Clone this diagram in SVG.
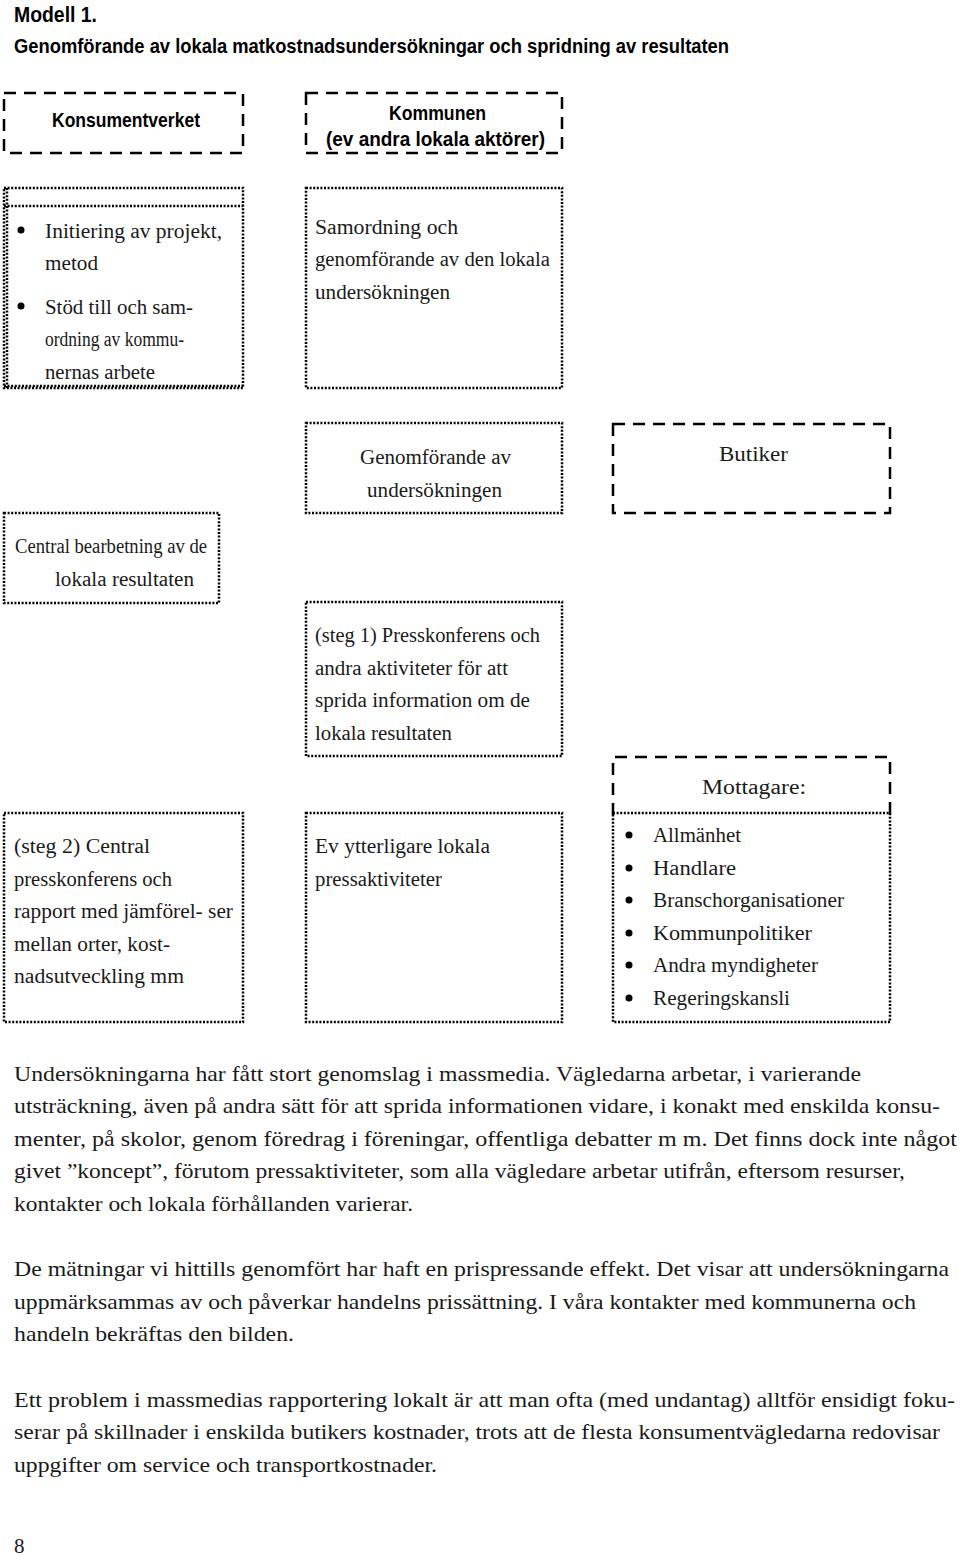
<svg xmlns="http://www.w3.org/2000/svg" width="960" height="1557" viewBox="0 0 960 1557">
<style>
.h{font-family:"Liberation Sans","DejaVu Sans",sans-serif;font-weight:bold;fill:#000}
.s{font-family:"Liberation Serif","DejaVu Serif",serif;font-size:20px;fill:#1a1a1a}
.b{font-family:"Liberation Serif","DejaVu Serif",serif;font-size:21px;fill:#1a1a1a}
.dash{fill:none;stroke:#000;stroke-width:2.5;stroke-dasharray:12 8}
.dot{fill:none;stroke:#000;stroke-width:2.5;stroke-dasharray:2 1.6}
</style>
<rect width="960" height="1557" fill="#fff"/>
<g id="title">
<text class="h" x="14" y="22" font-size="22" textLength="83" lengthAdjust="spacingAndGlyphs">Modell 1.</text>
<text class="h" x="14" y="53" font-size="21" textLength="715" lengthAdjust="spacingAndGlyphs">Genomförande av lokala matkostnadsundersökningar och spridning av resultaten</text>
</g>
<g id="connectors"></g>
<g id="konsumentverket">
<rect class="dash" x="4" y="93" width="239" height="60"/>
<text class="h" x="52" y="127" font-size="21" textLength="148" lengthAdjust="spacingAndGlyphs">Konsumentverket</text>
</g>
<g id="kommunen">
<rect class="dash" x="306" y="93" width="256" height="60"/>
<text class="h" x="389" y="120" font-size="21" textLength="97" lengthAdjust="spacingAndGlyphs">Kommunen</text>
<text class="h" x="326" y="146" font-size="21" textLength="219" lengthAdjust="spacingAndGlyphs">(ev andra lokala aktörer)</text>
</g>
<g id="kv-uppgifter">
<rect class="dot" x="4" y="188" width="239" height="200"/>
<line class="dot" x1="4" y1="206" x2="243" y2="206"/>
<line class="dot" x1="7" y1="188" x2="7" y2="388"/>
<line class="dot" x1="4" y1="386" x2="243" y2="386"/>
<circle cx="21" cy="230" r="3.5"/>
<circle cx="21" cy="306" r="3.5"/>
<text class="s" x="45" y="238" textLength="177" lengthAdjust="spacingAndGlyphs">Initiering av projekt,</text>
<text class="s" x="45" y="270" textLength="53" lengthAdjust="spacingAndGlyphs">metod</text>
<text class="s" x="45" y="314" textLength="148" lengthAdjust="spacingAndGlyphs">Stöd till och sam-</text>
<text class="s" x="45" y="346" textLength="139" lengthAdjust="spacingAndGlyphs">ordning av kommu-</text>
<text class="s" x="45" y="379" textLength="110" lengthAdjust="spacingAndGlyphs">nernas arbete</text>
</g>
<g id="samordning">
<rect class="dot" x="306" y="188" width="256" height="200"/>
<text class="s" x="315" y="234" textLength="143" lengthAdjust="spacingAndGlyphs">Samordning  och</text>
<text class="s" x="315" y="266" textLength="235" lengthAdjust="spacingAndGlyphs">genomförande av den lokala</text>
<text class="s" x="315" y="299" textLength="135" lengthAdjust="spacingAndGlyphs">undersökningen</text>
</g>
<g id="genomforande">
<rect class="dot" x="306" y="423" width="256" height="90"/>
<text class="s" x="360" y="464" textLength="151" lengthAdjust="spacingAndGlyphs">Genomförande av</text>
<text class="s" x="367" y="497" textLength="135" lengthAdjust="spacingAndGlyphs">undersökningen</text>
</g>
<g id="butiker">
<rect class="dash" x="613" y="424" width="277" height="89"/>
<text class="s" x="719" y="461" textLength="69" lengthAdjust="spacingAndGlyphs">Butiker</text>
</g>
<g id="central-bearbetning">
<rect class="dot" x="4" y="513" width="215" height="90"/>
<text class="s" x="15" y="553" textLength="192" lengthAdjust="spacingAndGlyphs">Central bearbetning av de</text>
<text class="s" x="55" y="586" textLength="139" lengthAdjust="spacingAndGlyphs">lokala resultaten</text>
</g>
<g id="steg1">
<rect class="dot" x="306" y="602" width="256" height="154"/>
<text class="s" x="315" y="642" textLength="225" lengthAdjust="spacingAndGlyphs">(steg 1) Presskonferens och</text>
<text class="s" x="315" y="675" textLength="193" lengthAdjust="spacingAndGlyphs">andra aktiviteter för att</text>
<text class="s" x="315" y="707" textLength="215" lengthAdjust="spacingAndGlyphs">sprida information om de</text>
<text class="s" x="315" y="740" textLength="137" lengthAdjust="spacingAndGlyphs">lokala resultaten</text>
</g>
<g id="mottagare">
<path class="dash" d="M613,815 V757 H890 V815"/>
<rect class="dot" x="613" y="813" width="277" height="209"/>
<text class="s" x="702" y="794" textLength="104" lengthAdjust="spacingAndGlyphs">Mottagare:</text>
<circle cx="629" cy="835" r="3.5"/>
<circle cx="629" cy="868" r="3.5"/>
<circle cx="629" cy="900" r="3.5"/>
<circle cx="629" cy="933" r="3.5"/>
<circle cx="629" cy="965" r="3.5"/>
<circle cx="629" cy="998" r="3.5"/>
<text class="s" x="653" y="842" textLength="88" lengthAdjust="spacingAndGlyphs">Allmänhet</text>
<text class="s" x="653" y="875" textLength="83" lengthAdjust="spacingAndGlyphs">Handlare</text>
<text class="s" x="653" y="907" textLength="191" lengthAdjust="spacingAndGlyphs">Branschorganisationer</text>
<text class="s" x="653" y="940" textLength="159" lengthAdjust="spacingAndGlyphs">Kommunpolitiker</text>
<text class="s" x="653" y="972" textLength="165" lengthAdjust="spacingAndGlyphs">Andra myndigheter</text>
<text class="s" x="653" y="1005" textLength="137" lengthAdjust="spacingAndGlyphs">Regeringskansli</text>
</g>
<g id="steg2">
<rect class="dot" x="4" y="813" width="239" height="209"/>
<text class="s" x="14" y="853" textLength="136" lengthAdjust="spacingAndGlyphs">(steg 2)  Central</text>
<text class="s" x="14" y="886" textLength="158" lengthAdjust="spacingAndGlyphs">presskonferens och</text>
<text class="s" x="14" y="918" textLength="219" lengthAdjust="spacingAndGlyphs">rapport med jämförel- ser</text>
<text class="s" x="14" y="951" textLength="156" lengthAdjust="spacingAndGlyphs">mellan orter, kost-</text>
<text class="s" x="14" y="983" textLength="170" lengthAdjust="spacingAndGlyphs">nadsutveckling  mm</text>
</g>
<g id="ev-pressaktiviteter">
<rect class="dot" x="306" y="813" width="256" height="209"/>
<text class="s" x="315" y="853" textLength="175" lengthAdjust="spacingAndGlyphs">Ev  ytterligare lokala</text>
<text class="s" x="315" y="886" textLength="127" lengthAdjust="spacingAndGlyphs">pressaktiviteter</text>
</g>
<g id="brodtext">
<text class="b" x="14" y="1081" textLength="847" lengthAdjust="spacingAndGlyphs">Undersökningarna har fått stort genomslag i massmedia. Vägledarna arbetar, i varierande</text>
<text class="b" x="14" y="1113" textLength="926" lengthAdjust="spacingAndGlyphs">utsträckning, även på andra sätt för att sprida informationen vidare, i konakt med enskilda konsu-</text>
<text class="b" x="14" y="1146" textLength="943" lengthAdjust="spacingAndGlyphs">menter, på skolor, genom föredrag i föreningar, offentliga debatter m m. Det finns dock inte något</text>
<text class="b" x="14" y="1178" textLength="891" lengthAdjust="spacingAndGlyphs">givet ”koncept”, förutom pressaktiviteter, som alla vägledare arbetar utifrån, eftersom resurser,</text>
<text class="b" x="14" y="1211" textLength="399" lengthAdjust="spacingAndGlyphs">kontakter och lokala förhållanden varierar.</text>
<text class="b" x="14" y="1276" textLength="935" lengthAdjust="spacingAndGlyphs">De mätningar vi hittills genomfört har haft en prispressande effekt. Det visar att undersökningarna</text>
<text class="b" x="14" y="1309" textLength="902" lengthAdjust="spacingAndGlyphs">uppmärksammas av och påverkar handelns prissättning. I våra kontakter med kommunerna och</text>
<text class="b" x="14" y="1341" textLength="280" lengthAdjust="spacingAndGlyphs">handeln bekräftas den bilden.</text>
<text class="b" x="14" y="1407" textLength="941" lengthAdjust="spacingAndGlyphs">Ett problem i massmedias rapportering lokalt är att man ofta (med undantag) alltför ensidigt foku-</text>
<text class="b" x="14" y="1439" textLength="926" lengthAdjust="spacingAndGlyphs">serar på skillnader i enskilda butikers kostnader, trots att de flesta konsumentvägledarna redovisar</text>
<text class="b" x="14" y="1472" textLength="423" lengthAdjust="spacingAndGlyphs">uppgifter om service och transportkostnader.</text>
<text class="b" x="14" y="1553">8</text>
</g>
</svg>
